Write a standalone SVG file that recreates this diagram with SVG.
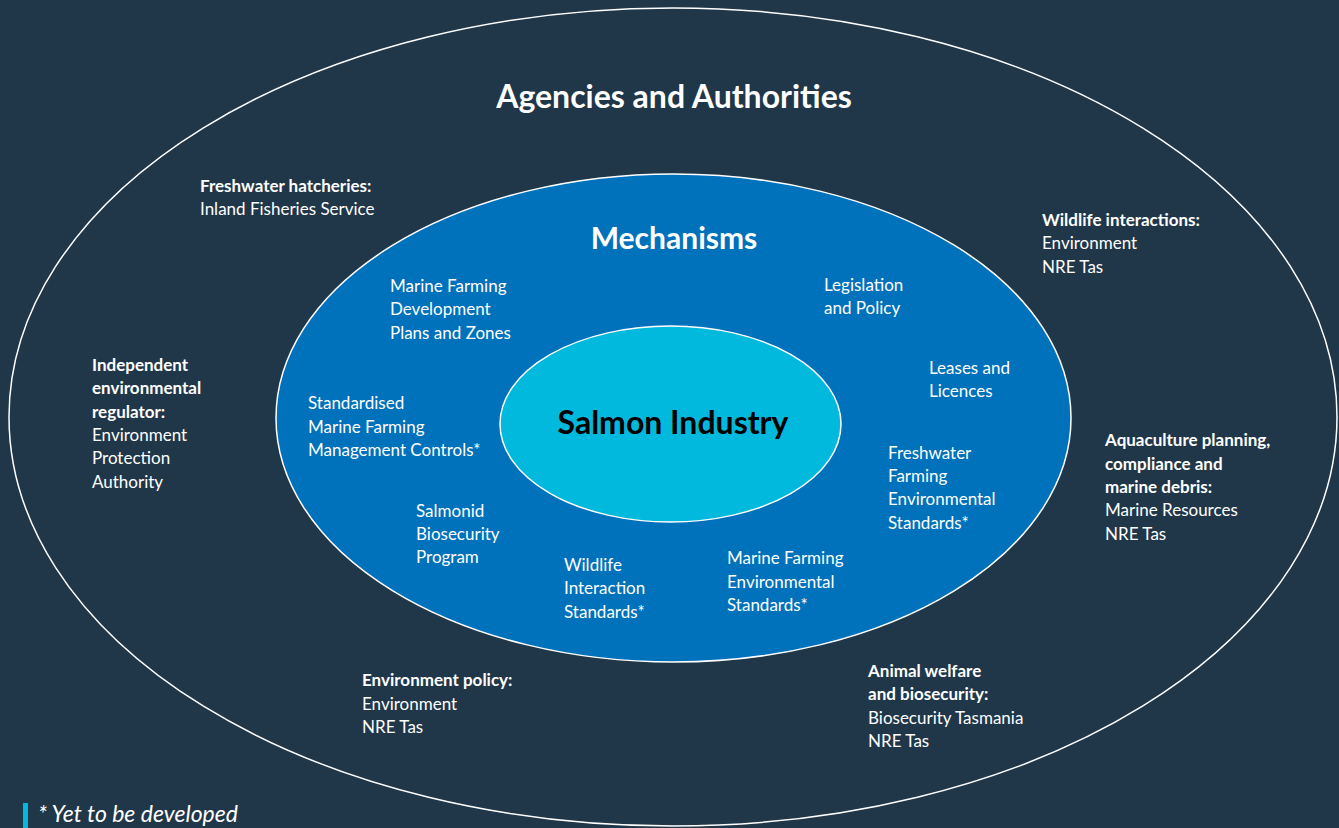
<svg xmlns="http://www.w3.org/2000/svg" width="1339" height="828" viewBox="0 0 1339 828">
<style>
text{font-family:Lato,"Open Sans","Liberation Sans",sans-serif;fill:#fff;font-size:17px}
.b{font-weight:bold}
.t{font-weight:bold;font-size:32px;text-anchor:middle}
.m{font-weight:bold;font-size:30px;text-anchor:middle}
.s{fill:#000;font-weight:bold;font-size:32px;text-anchor:middle}
.f{font-style:italic;font-size:23px}
</style>
<rect width="1339" height="828" fill="#1f3749"/>
<g id="agencies">
<ellipse cx="673" cy="417" rx="664" ry="409" fill="none" stroke="#fff" stroke-width="1.5"/>
<text class="t" x="674" y="108">Agencies and Authorities</text>
</g>
<g id="mechanisms">
<ellipse cx="673.5" cy="418" rx="397.5" ry="244" fill="#0071bb" stroke="#fff" stroke-width="1.5"/>
<text class="m" x="674" y="249">Mechanisms</text>
</g>
<g id="salmon">
<ellipse cx="670.5" cy="424" rx="170.5" ry="98" fill="#00b9dc" stroke="#fff" stroke-width="1.5"/>
<text class="s" x="673" y="434">Salmon Industry</text>
</g>
<g id="connectors"/>
<g id="freshwater-hatcheries"><text x="200" y="192"><tspan class="b">Freshwater hatcheries:</tspan><tspan x="200" y="215">Inland Fisheries Service</tspan></text></g>
<g id="wildlife-interactions"><text x="1042" y="226"><tspan class="b">Wildlife interactions:</tspan><tspan x="1042" y="249">Environment</tspan><tspan x="1042" y="273">NRE Tas</tspan></text></g>
<g id="independent-regulator"><text x="92" y="371"><tspan class="b">Independent</tspan><tspan class="b" x="92" y="394">environmental</tspan><tspan class="b" x="92" y="418">regulator:</tspan><tspan x="92" y="441">Environment</tspan><tspan x="92" y="464">Protection</tspan><tspan x="92" y="488">Authority</tspan></text></g>
<g id="aquaculture-planning"><text x="1105" y="446"><tspan class="b">Aquaculture planning,</tspan><tspan class="b" x="1105" y="470">compliance and</tspan><tspan class="b" x="1105" y="493">marine debris:</tspan><tspan x="1105" y="516">Marine Resources</tspan><tspan x="1105" y="540">NRE Tas</tspan></text></g>
<g id="environment-policy"><text x="362" y="686"><tspan class="b">Environment policy:</tspan><tspan x="362" y="710">Environment</tspan><tspan x="362" y="733">NRE Tas</tspan></text></g>
<g id="animal-welfare"><text x="868" y="677"><tspan class="b">Animal welfare</tspan><tspan class="b" x="868" y="700">and biosecurity:</tspan><tspan x="868" y="724">Biosecurity Tasmania</tspan><tspan x="868" y="747">NRE Tas</tspan></text></g>
<g id="mfdp"><text x="390" y="292">Marine Farming<tspan x="390" y="315">Development</tspan><tspan x="390" y="339">Plans and Zones</tspan></text></g>
<g id="legislation"><text x="824" y="291">Legislation<tspan x="824" y="314">and Policy</tspan></text></g>
<g id="leases"><text x="929" y="374">Leases and<tspan x="929" y="397">Licences</tspan></text></g>
<g id="smfmc"><text x="308" y="409">Standardised<tspan x="308" y="433">Marine Farming</tspan><tspan x="308" y="456">Management Controls*</tspan></text></g>
<g id="ffes"><text x="888" y="459">Freshwater<tspan x="888" y="482">Farming</tspan><tspan x="888" y="505">Environmental</tspan><tspan x="888" y="529">Standards*</tspan></text></g>
<g id="sbp"><text x="416" y="517">Salmonid<tspan x="416" y="540">Biosecurity</tspan><tspan x="416" y="563">Program</tspan></text></g>
<g id="wis"><text x="564" y="571">Wildlife<tspan x="564" y="594">Interaction</tspan><tspan x="564" y="618">Standards*</tspan></text></g>
<g id="mfes"><text x="727" y="564">Marine Farming<tspan x="727" y="588">Environmental</tspan><tspan x="727" y="611">Standards*</tspan></text></g>
<g id="footnote">
<rect x="23" y="803" width="5" height="25" fill="#00b9dc"/>
<text class="f" x="38" y="822">* Yet to be developed</text>
</g>
</svg>
